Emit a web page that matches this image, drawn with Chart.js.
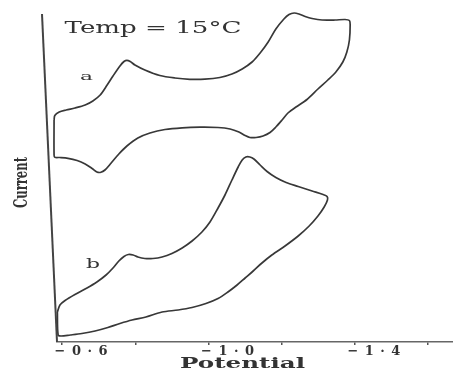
<!DOCTYPE html>
<html>
<head>
<meta charset="utf-8">
<script src="https://cdn.jsdelivr.net/npm/chart.js@4.4.1/dist/chart.umd.min.js"></script>
<style>
  html, body { margin: 0; padding: 0; background: #fff; }
  #cv { display: block; }
</style>
</head>
<body>
<canvas id="cv" width="453" height="372"></canvas>
<script>
// Cyclic voltammograms at 15 °C, traces a and b (current in arbitrary units)
var aPotential = [-0.578, -0.580, -0.592, -0.611, -0.635, -0.663, -0.684, -0.704, -0.723, -0.739,
    -0.758, -0.769, -0.777, -0.786, -0.799, -0.826, -0.867, -0.908, -0.949, -0.990,
    -1.031, -1.064, -1.092, -1.119, -1.141, -1.163, -1.184, -1.206, -1.220, -1.234,
    -1.247, -1.264, -1.283, -1.310, -1.346, -1.373, -1.385, -1.387, -1.385, -1.378,
    -1.367, -1.348, -1.326, -1.299, -1.269, -1.239, -1.217, -1.201, -1.184, -1.168,
    -1.149, -1.130, -1.113, -1.100, -1.083, -1.059, -1.026, -0.977, -0.928, -0.881,
    -0.840, -0.807, -0.777, -0.755, -0.734, -0.717, -0.706, -0.695, -0.682, -0.663,
    -0.641, -0.616, -0.594, -0.580, -0.578, -0.578];
var aCurrent = [22.2, 22.65, 23.0, 23.2, 23.4, 23.7, 24.1, 24.7, 25.7, 26.6,
    27.6, 28.05, 28.17, 28.05, 27.7, 27.2, 26.65, 26.4, 26.27, 26.28,
    26.45, 26.8, 27.3, 28.0, 28.9, 30.0, 31.3, 32.3, 32.75, 32.9,
    32.8, 32.55, 32.35, 32.2, 32.2, 32.25, 32.15, 31.7, 30.2, 29.0,
    28.0, 27.0, 26.2, 25.3, 24.25, 23.5, 22.9, 22.2, 21.5, 20.95,
    20.6, 20.45, 20.45, 20.65, 21.0, 21.3, 21.45, 21.48, 21.42, 21.25,
    20.9, 20.4, 19.6, 18.8, 17.9, 17.2, 16.97, 17.0, 17.35, 17.8,
    18.15, 18.37, 18.45, 18.47, 18.7, 22.2];

var bPotential = [-0.587, -0.594, -0.608, -0.635, -0.668, -0.695, -0.720, -0.739, -0.755, -0.769,
    -0.781, -0.794, -0.807, -0.826, -0.848, -0.873, -0.900, -0.928, -0.955, -0.982,
    -1.004, -1.026, -1.045, -1.064, -1.081, -1.092, -1.102, -1.113, -1.124, -1.141,
    -1.160, -1.184, -1.212, -1.245, -1.283, -1.313, -1.324, -1.325, -1.316, -1.299,
    -1.275, -1.245, -1.209, -1.173, -1.146, -1.122, -1.100, -1.078, -1.053, -1.026,
    -0.993, -0.955, -0.917, -0.873, -0.829, -0.791, -0.758, -0.725, -0.690, -0.654,
    -0.622, -0.597, -0.589, -0.587];
var bCurrent = [3.0, 3.7, 4.15, 4.75, 5.4, 6.0, 6.7, 7.4, 8.1, 8.55,
    8.75, 8.7, 8.5, 8.35, 8.35, 8.5, 8.85, 9.4, 10.1, 11.0,
    12.0, 13.4, 14.7, 16.2, 17.5, 18.2, 18.5, 18.5, 18.3, 17.7,
    17.05, 16.45, 15.95, 15.55, 15.1, 14.75, 14.55, 14.2, 13.5, 12.6,
    11.6, 10.6, 9.6, 8.7, 7.9, 7.1, 6.4, 5.7, 5.0, 4.35,
    3.85, 3.45, 3.2, 3.0, 2.5, 2.2, 1.85, 1.45, 1.1, 0.85,
    0.7, 0.6, 0.7, 3.0];

var tickValues = [-0.6, -0.8, -1.0, -1.2, -1.4, -1.6];
var tickLabels = ['\u2212\u20020\u2002\u00b7\u20026', '', '\u2212\u20021\u2002\u00b7\u20020', '',
    '\u2212\u20021\u2002\u00b7\u20024', ''];

var INK = '#383838';

function toPoints(xs, ys) {
    return xs.map(function (x, i) { return { x: x, y: ys[i] }; });
}

// draws text squeezed/stretched horizontally to a given width
function fitText(ctx, text, cx, base, width, cap, weight, angle) {
    var size = cap / 0.73;
    ctx.save();
    ctx.font = weight + ' ' + size.toFixed(1) + 'px "DejaVu Serif", serif';
    var w = ctx.measureText(text).width;
    ctx.translate(cx, base);
    if (angle) ctx.rotate(angle);
    ctx.scale(width / w, 1);
    ctx.fillStyle = '#333';
    ctx.textAlign = 'center';
    ctx.textBaseline = 'alphabetic';
    ctx.fillText(text, 0, 0);
    ctx.restore();
}

var sketchPlugin = {
    id: 'sketchAxis',
    afterDraw: function (chart) {
        var ctx = chart.ctx;
        var area = chart.chartArea;

        // slightly leaning current axis
        ctx.save();
        ctx.strokeStyle = '#444';
        ctx.lineWidth = 2;
        ctx.beginPath();
        ctx.moveTo(area.left - 15, area.top + 2);
        ctx.lineTo(area.left, area.bottom);
        ctx.stroke();
        ctx.restore();

        fitText(ctx, 'Temp = 15\u00b0C', 153, 33, 177, 11.5, 'normal');
        fitText(ctx, 'a', 86.5, 80, 13, 8, 'normal');
        fitText(ctx, 'b', 93, 268, 14, 10, 'normal');
        fitText(ctx, 'Current', 27, 182.5, 51, 14, 'bold', -Math.PI / 2);
        fitText(ctx, 'Potential', 242.5, 368, 125, 11, 'bold');
    }
};

new Chart(document.getElementById('cv').getContext('2d'), {
    type: 'scatter',
    data: {
        datasets: [
            {
                label: 'a',
                data: toPoints(aPotential, aCurrent),
                showLine: true,
                borderColor: INK,
                borderWidth: 1.7,
                pointRadius: 0,
                tension: 0.3,
                clip: false
            },
            {
                label: 'b',
                data: toPoints(bPotential, bCurrent),
                showLine: true,
                borderColor: INK,
                borderWidth: 1.7,
                pointRadius: 0,
                tension: 0.3,
                clip: false
            }
        ]
    },
    options: {
        responsive: false,
        animation: false,
        devicePixelRatio: 1,
        layout: { padding: { left: 57, right: 0, top: 12, bottom: 0 } },
        plugins: {
            legend: { display: false },
            tooltip: { enabled: false }
        },
        scales: {
            x: {
                type: 'linear',
                reverse: true,
                min: -1.668,
                max: -0.586,
                afterBuildTicks: function (scale) {
                    scale.ticks = tickValues.map(function (v) { return { value: v }; });
                },
                afterFit: function (scale) { scale.height = 30; },
                border: { display: true, color: '#666', width: 1.5 },
                grid: {
                    drawOnChartArea: false,
                    drawTicks: true,
                    tickLength: 3,
                    color: '#555',
                    lineWidth: 1.5
                },
                ticks: {
                    autoSkip: false,
                    maxRotation: 0,
                    padding: -1,
                    labelOffset: 19,
                    color: '#333',
                    font: { family: '"DejaVu Serif", serif', size: 13, weight: 'bold' },
                    callback: function (value, index) { return tickLabels[index]; }
                }
            },
            y: {
                display: false,
                min: 0,
                max: 33
            }
        }
    },
    plugins: [sketchPlugin]
});
</script>
</body>
</html>
